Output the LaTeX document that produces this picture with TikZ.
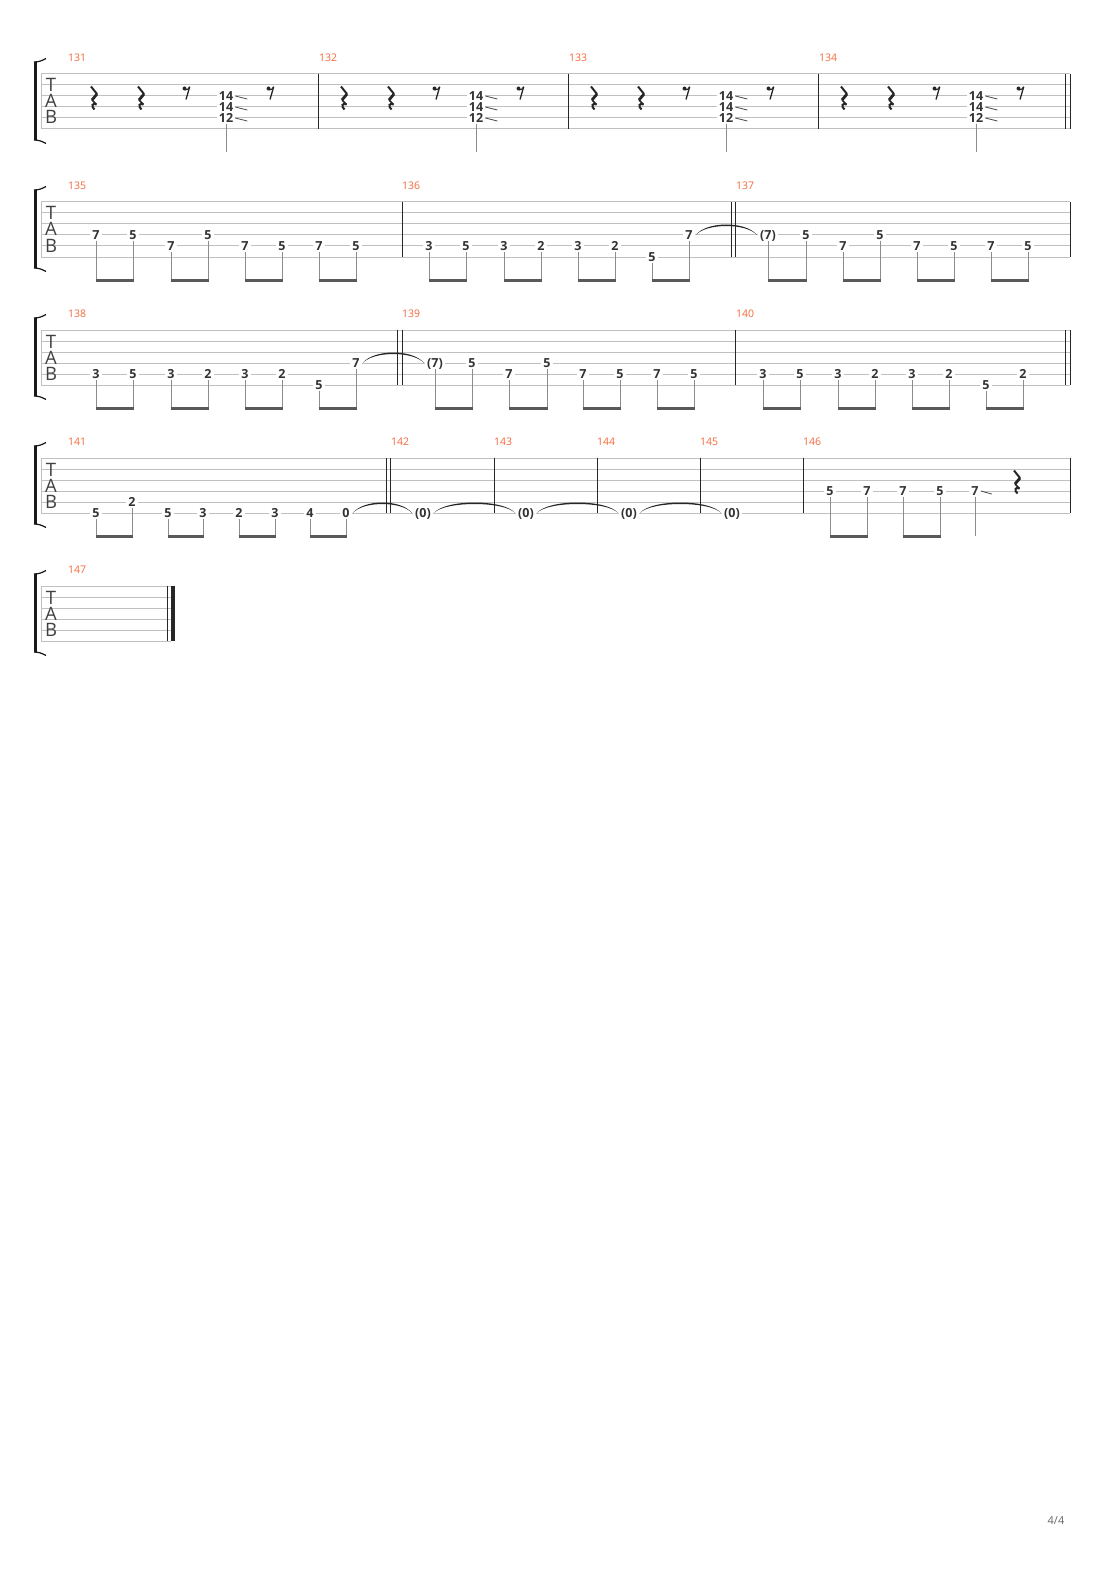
\documentclass[tikz,border=0pt]{standalone}
\usepackage{fontspec}
\setmainfont{Open Sans}
\usepackage{tikz}

\definecolor{barnum}{RGB}{247,104,58}
\definecolor{staffgray}{RGB}{192,192,192}

\begin{document}
\begin{tikzpicture}[x=1pt,y=-1pt,
    staffline/.style={staffgray,line width=1pt},
    barline/.style={black!85,line width=1pt},
    bracket/.style={black!90,line width=1.2pt},
    fret/.style={font=\bfseries\fontsize{12.5}{12.5}\selectfont,text=black!80,fill=white,
        inner xsep=2pt,inner ysep=1pt,text height=8.8pt,text depth=0pt},
    barnum/.style={font=\fontsize{10.5}{10.5}\selectfont,text=barnum,anchor=west,inner sep=0pt},
    tabclef/.style={font=\fontsize{18.5}{18.5}\selectfont,text=black!75,inner sep=0pt,
        text height=13pt,text depth=0pt},
    stem/.style={black!45,line width=1pt},
    beam/.style={black!65,line width=3pt},
    tie/.style={fill=black!85},
    slide/.style={black!70,line width=0.8pt},
    qrest/.pic={
        \draw[black!85,line width=2pt,line join=round] (-3,-11.5) -- (3,-4);
        \draw[black!85,line width=2.8pt,line join=round] (3,-4) -- (-2,2);
        \draw[black!85,line width=1.6pt] (-2,2) -- (2.5,6.5);
        \draw[black!85,line width=2pt] (2.5,6.5) .. controls (-1.5,4.5) and (-3.5,8) .. (0.5,11.5);
    },
    erest/.pic={
        \fill[black!85] (-2,-4.5) circle (2);
        \draw[black!85,line width=1pt] (-2,-3) .. controls (0,-2.5) and (2,-4) .. (3.2,-6.2);
        \draw[black!85,line width=1.3pt] (3.2,-6.2) -- (-0.5,6.5);
    }]

    % Поле страницы
    \fill[white] (0,0) rectangle (1110,1570);
    \useasboundingbox (0,0) rectangle (1110,1570);

    % Нотоносцы
    \foreach \sy/\right in {74/1070,202/1070,330/1070,458/1070,586/171} {
        \foreach \k in {0,...,5}
            \draw[staffline] (41,\sy+11*\k) -- (\right,\sy+11*\k);
        \draw[staffline] (41,\sy) -- (41,\sy+55);
        \draw[bracket,line width=3pt] (35.5,\sy-12) -- (35.5,\sy+66);
        \draw[bracket] (34,\sy-12) .. controls (40,\sy-12.5) .. (46,\sy-15.5);
        \draw[bracket] (34,\sy+66) .. controls (40,\sy+66.5) .. (46,\sy+69.5);
        \node[tabclef] (T\sy) at (51,\sy+11.5) {T};
        \node[tabclef] (A\sy) at (51,\sy+27.5) {A};
        \node[tabclef] (B\sy) at (51,\sy+43.5) {B};
    }

    % Тактовые черты
    \foreach \x/\sy in {318/74, 568/74, 818/74, 1065.5/74, 1070/74,
                        402/202, 731/202, 735.5/202, 1070/202,
                        397.5/330, 402/330, 735/330, 1065.5/330, 1070/330,
                        386/458, 390.5/458, 494/458, 597/458, 700/458, 803/458, 1070/458,
                        167.5/586}
        \draw[barline] (\x,\sy) -- (\x,\sy+55);
    \draw[barline,line width=3.5pt] (173,586) -- (173,641);

    % Номера тактов
    \foreach \n/\x/\sy in {131/68/74, 132/319/74, 133/569/74, 134/819/74,
                           135/68/202, 136/402/202, 137/736/202,
                           138/68/330, 139/402/330, 140/736/330,
                           141/68/458, 142/391/458, 143/494/458, 144/597/458, 145/700/458, 146/803/458,
                           147/68/586}
        \node[barnum] (m\n) at (\x,\sy-16) {\n};

    % Такты 131--134: паузы и аккорд
    \foreach \m in {0,...,3} {
        \pgfmathsetmacro\o{250*\m}
        \pic at (94+\o,98) {qrest};
        \pic at (141+\o,98) {qrest};
        \pic at (186.5+\o,93) {erest};
        \pic at (270.5+\o,93) {erest};
        \node[fret] (ca\m) at (226+\o,96) {14};
        \node[fret] (cb\m) at (226+\o,107) {14};
        \node[fret] (cc\m) at (226+\o,118) {12};
        \coordinate (cs\m) at (226+\o,152);
        \draw[stem] (cc\m.south) -- (cs\m);
        \foreach \c in {ca,cb,cc}
            \draw[slide] (\c\m.east) -- ++(12,3);
    }

    % Восьмые парами
    \foreach \sy/\xa/\sa/\fa/\xb/\sb/\fb [count=\i] in {
        202/96/3/7/133/3/5, 202/171/4/7/208/3/5, 202/245/4/7/282/4/5, 202/319/4/7/356/4/5,
        202/429/4/3/466/4/5, 202/504/4/3/541/4/2, 202/578/4/3/615/4/2, 202/652/5/5/689/3/7,
        202/768/3/(7)/806/3/5, 202/843/4/7/880/3/5, 202/917/4/7/954/4/5, 202/991/4/7/1028/4/5,
        330/96/4/3/133/4/5, 330/171/4/3/208/4/2, 330/245/4/3/282/4/2, 330/319/5/5/356/3/7,
        330/435/3/(7)/472/3/5, 330/509/4/7/547/3/5, 330/583/4/7/620/4/5, 330/657/4/7/694/4/5,
        330/763/4/3/800/4/5, 330/838/4/3/875/4/2, 330/912/4/3/949/4/2, 330/986/5/5/1023/4/2,
        458/96/5/5/132/4/2, 458/168/5/5/203/5/3, 458/239/5/2/275/5/3, 458/310/5/4/346/5/0,
        458/830/3/5/867/3/7, 458/903/3/7/940/3/5}
    {
        \node[fret] (pa\i) at (\xa,\sy+11*\sa) {\fa};
        \node[fret] (pb\i) at (\xb,\sy+11*\sb) {\fb};
        \coordinate (qa\i) at (\xa,\sy+78);
        \coordinate (qb\i) at (\xb,\sy+78);
        \draw[stem] (pa\i.south) -- (qa\i);
        \draw[stem] (pb\i.south) -- (qb\i);
        \draw[beam] ([xshift=-0.5pt]qa\i) -- ([xshift=0.5pt]qb\i);
    }

    % Выдержанные ноты 142--145
    \foreach \x [count=\j] in {423,526,629,732}
        \node[fret] (z\j) at (\x,513) {(0)};

    % Такт 146: последняя нота и пауза
    \node[fret] (s1) at (975,491) {7};
    \coordinate (s1q) at (975,536);
    \draw[stem] (s1.south) -- (s1q);
    \draw[slide] (s1.east) -- ++(11,3);
    \pic at (1017,482) {qrest};

    % Лиги
    \foreach \a/\b in {pb8/pa9, pb16/pa17, pb28/z1, z1/z2, z2/z3, z3/z4}
        \fill[tie] ([xshift=1pt]\a.east) .. controls +(11,-14) and +(-11,-14) .. ([xshift=-1pt]\b.west)
            .. controls +(-11,-12) and +(11,-12) .. ([xshift=1pt]\a.east);

    % Номер страницы
    \node[font=\fontsize{11}{11}\selectfont,text=black!60] (pg) at (1056,1521) {4/4};
\end{tikzpicture}
\end{document}
